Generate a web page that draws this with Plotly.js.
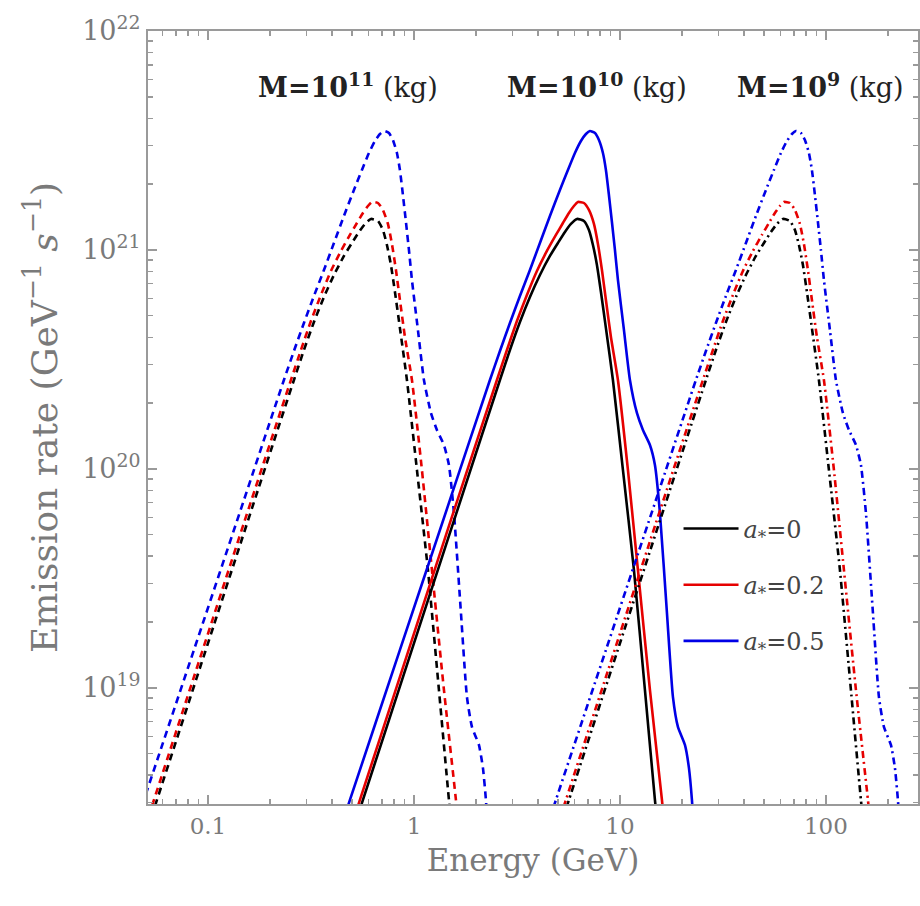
<!DOCTYPE html>
<html>
<head>
<meta charset="utf-8">
<script src="https://cdn.plot.ly/plotly-3.0.1.min.js"></script>
<style>html,body{margin:0;padding:0;background:#fff;}#chart{width:920px;height:906px;}</style>
</head>
<body>
<div id="chart"></div>
<script>
// Energies (GeV), per black-hole mass and spin
const E_M11_A0  = [0.04891, 0.05655, 0.10694, 0.20914, 0.26153, 0.29245, 0.32703, 0.36574, 0.40895, 0.45728, 0.50003, 0.54077, 0.57828, 0.61838, 0.66875, 0.70719, 0.73954, 0.77337, 0.80877, 0.85507, 0.92467, 1.0341, 1.1694, 1.3223, 1.4788, 1.5639];
const E_M10_A0  = [0.4891, 0.5655, 1.0694, 2.0914, 2.6153, 2.9245, 3.2703, 3.6574, 4.0895, 4.5728, 5.0003, 5.4077, 5.7828, 6.1838, 6.6875, 7.0719, 7.3954, 7.7337, 8.0877, 8.5507, 9.2467, 10.341, 11.694, 13.223, 14.788, 15.639];
const E_M9_A0   = [4.891, 5.655, 10.694, 20.914, 26.153, 29.245, 32.703, 36.574, 40.895, 45.728, 50.003, 54.077, 57.828, 61.838, 66.875, 70.719, 73.954, 77.337, 80.877, 85.507, 92.467, 103.41, 116.94, 132.23, 147.88, 156.39];

const E_M11_A02 = [0.04730, 0.05468, 0.08551, 0.14955, 0.25290, 0.28281, 0.31623, 0.35362, 0.39543, 0.44218, 0.48898, 0.52881, 0.56549, 0.59799, 0.62534, 0.66875, 0.70719, 0.74785, 0.78205, 0.81786, 0.85507, 0.90422, 0.97788, 1.0935, 1.2228, 1.3985, 1.5993, 1.6913];
const E_M10_A02 = [0.4730, 0.5468, 0.8551, 1.4955, 2.5290, 2.8281, 3.1623, 3.5362, 3.9543, 4.4218, 4.8898, 5.2881, 5.6549, 5.9799, 6.2534, 6.6875, 7.0719, 7.4785, 7.8205, 8.1786, 8.5507, 9.0422, 9.7788, 10.935, 12.228, 13.985, 15.993, 16.913];
const E_M9_A02  = [4.730, 5.468, 8.551, 14.955, 25.290, 28.281, 31.623, 35.362, 39.543, 44.218, 48.898, 52.881, 56.549, 59.799, 62.534, 66.875, 70.719, 74.785, 78.205, 81.786, 85.507, 90.422, 97.788, 109.35, 122.28, 139.85, 159.93, 169.13];

const E_M11_A05 = [0.04229, 0.04890, 0.08551, 0.14955, 0.23383, 0.26151, 0.29244, 0.32701, 0.36573, 0.40894, 0.45727, 0.51137, 0.5592, 0.60471, 0.64667, 0.68384, 0.71511, 0.75621, 0.79078, 0.82698, 0.85507, 0.88425, 0.91451, 0.94566, 0.97788, 1.0457, 1.1183, 1.2092, 1.2931, 1.3985, 1.4788, 1.5639, 1.6913, 1.8083, 1.9124, 2.0679, 2.1625, 2.2362, 2.3126];
const E_M10_A05 = [0.4229, 0.4890, 0.8551, 1.4955, 2.3383, 2.6151, 2.9244, 3.2701, 3.6573, 4.0894, 4.5727, 5.1137, 5.592, 6.0471, 6.4667, 6.8384, 7.1511, 7.5621, 7.9078, 8.2698, 8.5507, 8.8425, 9.1451, 9.4566, 9.7788, 10.457, 11.183, 12.092, 12.931, 13.985, 14.788, 15.639, 16.913, 18.083, 19.124, 20.679, 21.625, 22.362, 23.126];
const E_M9_A05  = [4.229, 4.890, 8.551, 14.955, 23.383, 26.151, 29.244, 32.701, 36.573, 40.894, 45.727, 51.137, 55.92, 60.471, 64.667, 68.384, 71.511, 75.621, 79.078, 82.698, 85.507, 88.425, 91.451, 94.566, 97.788, 104.57, 111.83, 120.92, 129.31, 139.85, 147.88, 156.39, 169.13, 180.83, 191.24, 206.79, 216.25, 223.62, 231.26];

// Emission rates (GeV^-1 s^-1), per spin
const RATE_A0  = [2.02e18, 3.08e18, 1.94e19, 1.342e20, 2.549e20, 3.494e20, 4.691e20, 6.101e20, 7.689e20, 9.389e20, 1.076e21, 1.208e21, 1.315e21, 1.386e21, 1.357e21, 1.234e21, 1.054e21, 8.54e20, 6.43e20, 4.40e20, 2.549e20, 9.90e19, 3.46e19, 9.79e18, 3.08e18, 1.82e18];
const RATE_A02 = [2.022e18, 3.081e18, 1.123e19, 5.667e19, 2.549e20, 3.494e20, 4.741e20, 6.230e20, 8.017e20, 9.895e20, 1.171e21, 1.328e21, 1.476e21, 1.588e21, 1.657e21, 1.639e21, 1.523e21, 1.315e21, 1.065e21, 8.102e20, 5.911e20, 4.007e20, 2.549e20, 9.895e19, 3.458e19, 9.792e18, 3.081e18, 1.821e18];
const RATE_A05 = [2.022e18, 3.081e18, 1.491e19, 7.218e19, 2.549e20, 3.458e20, 4.642e20, 6.166e20, 8.102e20, 1.076e21, 1.430e21, 1.879e21, 2.319e21, 2.773e21, 3.146e21, 3.386e21, 3.495e21, 3.422e21, 3.179e21, 2.773e21, 2.319e21, 1.783e21, 1.342e21, 1.0e21, 7.295e20, 4.313e20, 2.549e20, 1.802e20, 1.507e20, 1.287e20, 1.043e20, 6.297e19, 2.200e19, 9.097e18, 6.635e18, 5.492e18, 4.313e18, 3.081e18, 1.821e18];

const SPIN_NAMES = ['<i>a</i><sub>*</sub>=0', '<i>a</i><sub>*</sub>=0.2', '<i>a</i><sub>*</sub>=0.5'];
const MASS_LABELS = ['M=10<sup>11</sup>', 'M=10<sup>10</sup>', 'M=10<sup>9</sup>'];
const X_TICKS = [0.1, 1, 10, 100];
const X_TICKTEXT = ['0.1', '1', '10', '100'];
const Y_TICKS = [1e19, 1e20, 1e21, 1e22];
const Y_TICKTEXT = ['10<sup>19</sup>', '10<sup>20</sup>', '10<sup>21</sup>', '10<sup>22</sup>'];

const COLORS = ['#000000', '#e60000', '#0000e6'];
const DASHES = ['7px,5px', 'solid', '7px,4px,2px,4px'];

const energyByMass = [
  [E_M11_A0, E_M11_A02, E_M11_A05],
  [E_M10_A0, E_M10_A02, E_M10_A05],
  [E_M9_A0,  E_M9_A02,  E_M9_A05]
];
const rates = [RATE_A0, RATE_A02, RATE_A05];

const traces = [];
for (let m = 0; m < 3; m++) {
  for (let s = 0; s < 3; s++) {
    traces.push({
      x: energyByMass[m][s],
      y: rates[s],
      type: 'scatter',
      mode: 'lines',
      name: SPIN_NAMES[s],
      legendgroup: 'g' + s,
      showlegend: m === 1,
      line: {color: COLORS[s], width: 2.6, dash: DASHES[m], shape: 'spline', smoothing: 0.5},
      hoverinfo: 'skip'
    });
  }
}

const gray = '#7a7a7a';
const fontFam = 'DejaVu Serif, Liberation Serif, serif';

const annotations = MASS_LABELS.map((t, i) => ({
  text: '<b>' + t + '</b> (kg)',
  xref: 'paper', yref: 'paper',
  x: [0.2597, 0.583, 0.873][i], y: 0.93,
  xanchor: 'center', yanchor: 'middle',
  showarrow: false,
  font: {family: fontFam, size: 27, color: '#222'}
}));

const axisCommon = {
  type: 'log',
  showline: true, linecolor: '#9a9a9a', linewidth: 2,
  mirror: 'ticks',
  ticks: 'inside', ticklen: 9, tickwidth: 1.5, tickcolor: '#9a9a9a',
  showgrid: false, zeroline: false,
  minor: {ticks: 'inside', ticklen: 5, tickwidth: 1.2, tickcolor: '#9a9a9a', dtick: 'D1', showgrid: false}
};

const layout = {
  width: 920, height: 906,
  margin: {l: 148, r: 2, t: 31, b: 102},
  paper_bgcolor: '#fff', plot_bgcolor: '#fff',
  showlegend: true,
  legend: {
    x: 0.689, y: 0.385, xanchor: 'left', yanchor: 'top',
    bgcolor: 'rgba(0,0,0,0)', borderwidth: 0,
    font: {family: fontFam, size: 24, color: '#444'},
    tracegroupgap: 22,
    itemwidth: 55
  },
  xaxis: Object.assign({}, axisCommon, {
    range: [-1.291, 2.447],
    tickmode: 'array', tickvals: X_TICKS, ticktext: X_TICKTEXT,
    tickfont: {family: fontFam, size: 23, color: gray},
    title: {text: 'Energy (GeV)', font: {family: fontFam, size: 31, color: gray}, standoff: 12}
  }),
  yaxis: Object.assign({}, axisCommon, {
    range: [18.47, 22.0],
    tickmode: 'array', tickvals: Y_TICKS, ticktext: Y_TICKTEXT,
    tickfont: {family: fontFam, size: 27, color: gray},
    title: {text: 'Emission rate (GeV<sup>−1</sup> <i>s</i><sup>−1</sup>)', font: {family: fontFam, size: 36, color: gray}, standoff: 14}
  }),
  annotations: annotations
};

Plotly.newPlot('chart', traces, layout, {displayModeBar: false, staticPlot: true});
</script>
</body>
</html>
